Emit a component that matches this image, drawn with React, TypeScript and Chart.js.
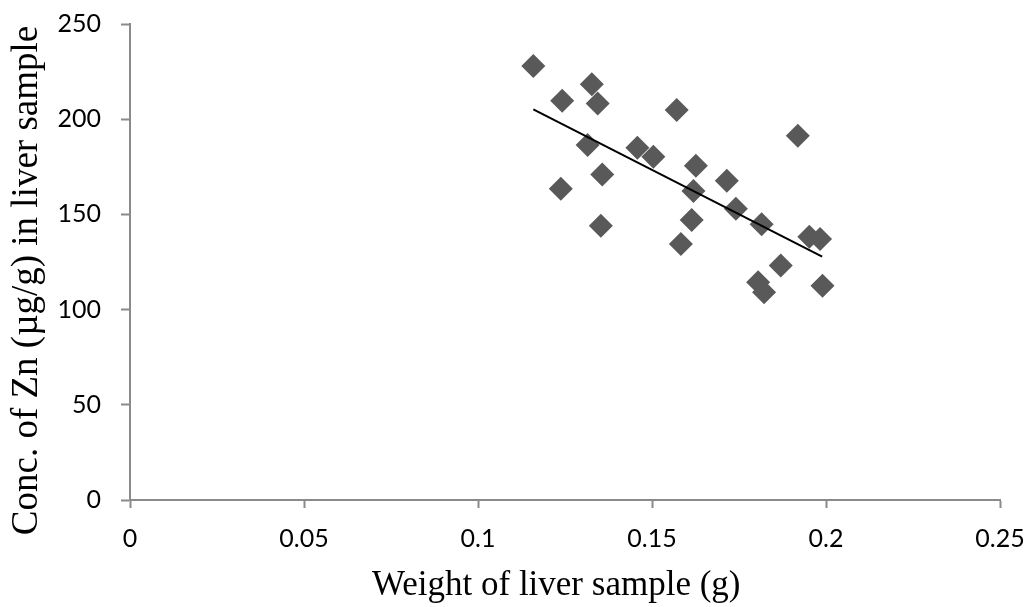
import React, { useEffect, useRef } from "react";
import { Chart, registerables } from "chart.js";

Chart.register(...registerables);

// Sample weights (g) and zinc concentrations (µg/g)
const weights = [
  0.1159, 0.1327, 0.1242, 0.1344, 0.1571, 0.1919, 0.1315, 0.1458, 0.1504,
  0.1626, 0.1357, 0.1715, 0.1238, 0.1619, 0.1741, 0.1614, 0.1815, 0.1353,
  0.1952, 0.1983, 0.1583, 0.187, 0.1805, 0.1822, 0.199,
];
const zincConc = [
  227.9, 218.3, 209.7, 208.3, 204.8, 191.3, 186.4, 185.0, 180.3, 175.6, 170.9,
  167.7, 163.5, 162.3, 153.0, 147.1, 144.8, 144.0, 138.3, 137.1, 134.5, 123.1,
  114.3, 109.1, 112.5,
];

// Linear trendline end points
const trendWeights = [0.1159, 0.1989];
const trendConc = [205.2, 127.8];

// Axis ticks
const xTicks = [0, 0.05, 0.1, 0.15, 0.2, 0.25];
const yTicks = [0, 50, 100, 150, 200, 250];

const xTitle = "Weight of liver sample (g)";
const yTitle = "Conc. of Zn (\u00b5g/g) in liver sample";

const AXIS_COLOR = "#8a8a8a";

function zeroPadding(scale: any) {
  scale.paddingLeft = 0;
  scale.paddingRight = 0;
  scale.paddingTop = 0;
  scale.paddingBottom = 0;
}

export default function App() {
  const canvasRef = useRef<HTMLCanvasElement | null>(null);

  useEffect(() => {
    const canvas = canvasRef.current;
    if (!canvas) return;

    const points = weights.map((w, i) => ({ x: w, y: zincConc[i] }));
    const trend = trendWeights.map((w, i) => ({ x: w, y: trendConc[i] }));

    const tickFont = { family: "Lato", size: 25 };
    const titleFontX = { family: "Liberation Serif", size: 35 };
    const titleFontY = { family: "Liberation Serif", size: 37 };

    const chart = new Chart(canvas, {
      type: "scatter",
      data: {
        datasets: [
          {
            label: "Trend",
            data: trend,
            showLine: true,
            borderColor: "#000000",
            borderWidth: 2,
            pointRadius: 0,
            fill: false,
            order: 0,
          } as any,
          {
            label: "Zn",
            data: points,
            pointStyle: "rectRot",
            pointRadius: 12,
            pointBackgroundColor: "#595959",
            pointBorderColor: "#595959",
            pointBorderWidth: 0,
            showLine: false,
            order: 1,
          } as any,
        ],
      },
      options: {
        responsive: false,
        animation: false,
        devicePixelRatio: 1,
        layout: { padding: { left: 0, top: 24, right: 30, bottom: 0 } },
        plugins: {
          legend: { display: false },
          tooltip: { enabled: false },
        },
        scales: {
          x: {
            type: "linear",
            min: 0,
            max: 0.25,
            afterBuildTicks: (scale: any) => {
              scale.ticks = xTicks.map((v) => ({ value: v }));
            },
            afterFit: (scale: any) => {
              scale.height = 107;
              zeroPadding(scale);
            },
            ticks: {
              color: "#000000",
              font: tickFont,
              padding: 16,
              maxRotation: 0,
              autoSkip: false,
              callback: (v: any) => String(v),
            },
            grid: {
              display: true,
              drawOnChartArea: false,
              drawTicks: true,
              tickLength: 8,
              tickColor: AXIS_COLOR,
              tickWidth: 2,
            },
            border: { display: true, color: AXIS_COLOR, width: 2 },
            title: {
              display: true,
              text: xTitle + "  ",
              color: "#000000",
              font: titleFontX,
              padding: { top: 0, bottom: 0 },
            },
          },
          y: {
            type: "linear",
            min: 0,
            max: 250,
            afterBuildTicks: (scale: any) => {
              scale.ticks = yTicks.map((v) => ({ value: v }));
            },
            afterFit: (scale: any) => {
              scale.width = 130;
              zeroPadding(scale);
            },
            ticks: {
              color: "#000000",
              font: tickFont,
              padding: 20,
              autoSkip: false,
              callback: (v: any) => String(v),
            },
            grid: {
              display: true,
              drawOnChartArea: false,
              drawTicks: true,
              tickLength: 9,
              tickColor: AXIS_COLOR,
              tickWidth: 2,
            },
            border: { display: true, color: AXIS_COLOR, width: 2 },
            title: {
              display: true,
              text: yTitle + "    ",
              color: "#000000",
              font: titleFontY,
              padding: { top: 5, bottom: 0 },
            },
          },
        },
      },
    });

    return () => {
      chart.destroy();
    };
  }, []);

  return (
    <div
      style={{
        position: "absolute",
        left: 0,
        top: 0,
        width: 1030,
        height: 607,
        background: "#ffffff",
      }}
    >
      <canvas ref={canvasRef} width={1030} height={607} />
    </div>
  );
}
